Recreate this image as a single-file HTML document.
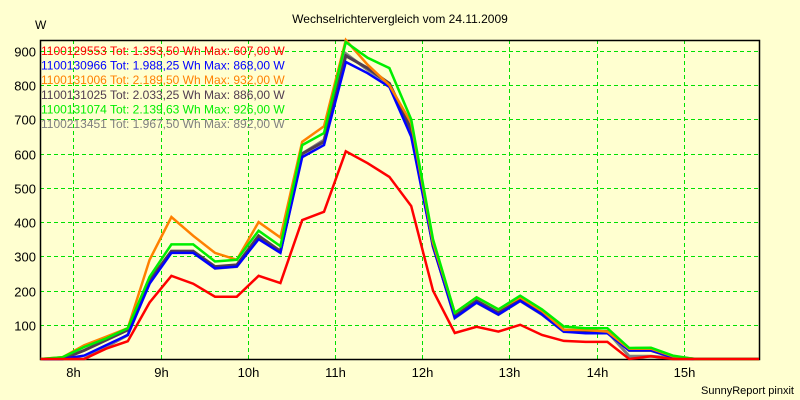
<!DOCTYPE html>
<html><head><meta charset="utf-8"><style>
body{margin:0;background:#ffffd0;}
svg{display:block;font-family:"Liberation Sans",Arial,sans-serif;}
</style></head><body>
<svg width="800" height="400" viewBox="0 0 800 400">
<rect width="800" height="400" fill="#ffffd0"/>
<text x="400" y="23" text-anchor="middle" font-size="12">Wechselrichtervergleich vom 24.11.2009</text>
<text x="35" y="29" font-size="12">W</text>
<text x="794" y="394" text-anchor="end" font-size="11">SunnyReport pinxit</text>
<g id="grid"></g>
<g id="axes"></g>
<g id="series"></g>
<g id="legend"></g>
</svg>
<script>
const yTicks=[100,200,300,400,500,600,700,800,900];
const xTickHours=[8,9,10,11,12,13,14,15];
const xTickLabels=["8h","9h","10h","11h","12h","13h","14h","15h"];
const startHour=7.625, stepHour=0.25;
const seriesNames=["1100129553","1100130966","1100131006","1100131025","1100131074","1100213451"];
const seriesLegend=["1100129553 Tot: 1.353,50 Wh Max: 607,00 W","1100130966 Tot: 1.988,25 Wh Max: 868,00 W","1100131006 Tot: 2.189,50 Wh Max: 932,00 W","1100131025 Tot: 2.033,25 Wh Max: 886,00 W","1100131074 Tot: 2.139,63 Wh Max: 926,00 W","1100213451 Tot: 1.967,50 Wh Max: 892,00 W"];
const seriesColors=["#ff0000","#0000ff","#ff8000","#503c50","#00ee00","#808080"];
const seriesRed=[0,0,0,30,52,165,243,220,182,182,243,222,406,430,607,572,532,447,200,76,94,80,100,70,53,50,50,0,8,0,0,0,0,0];
const seriesBlue=[0,0,10,40,70,220,310,310,265,270,350,310,590,625,868,835,795,650,330,120,165,130,170,130,80,75,75,25,25,5,0,0,0,0];
const seriesOrange=[0,5,40,65,90,290,415,360,310,290,400,355,635,680,932,860,800,690,340,135,180,145,180,140,85,85,80,30,30,8,0,0,0,0];
const seriesDark=[0,0,25,55,85,230,315,315,270,275,360,315,600,635,886,850,805,670,330,125,170,135,175,135,85,80,80,25,25,5,0,0,0,0];
const seriesGreen=[0,5,35,60,90,240,335,335,285,290,375,330,625,660,926,880,850,700,350,135,180,145,185,145,95,90,90,32,33,10,0,0,0,0];
const seriesGray=[0,0,0,35,70,225,315,315,265,270,355,315,600,640,892,845,805,670,335,120,165,130,170,130,80,80,80,8,8,3,0,0,0,0];
const drawOrder=[5,3,1,2,4,0];
const allSeries=[seriesRed,seriesBlue,seriesOrange,seriesDark,seriesGreen,seriesGray];
const L=40,R=759,T=40,B=359;
const yScale=v=>B-v*(B-51)/900;
const xScale=h=>73.3+(h-8)*87.2;
const NS="http://www.w3.org/2000/svg";
function mk(tag,attrs,parent){const e=document.createElementNS(NS,tag);for(const k in attrs)e.setAttribute(k,attrs[k]);parent.appendChild(e);return e;}
const grid=document.getElementById('grid'),axes=document.getElementById('axes'),ser=document.getElementById('series'),leg=document.getElementById('legend');
yTicks.forEach(v=>{
 const y=Math.round(yScale(v))+0.5;
 const g=mk('line',{x1:L,x2:R,y1:y,y2:y,stroke:'#00e000','stroke-dasharray':'4,3','stroke-width':1},grid);
 
 
 const t=mk('text',{x:36,y:y+5,'text-anchor':'end','font-size':13},axes);
 t.textContent=v;
 
 
});
xTickHours.forEach((h,i)=>{
 const x=Math.round(xScale(h))+0.5;
 const g=mk('line',{x1:x,x2:x,y1:T,y2:B,stroke:'#00e000','stroke-dasharray':'4,3','stroke-width':1},grid);
 
 
 const t=mk('text',{x:x,y:377,'text-anchor':'middle','font-size':13},axes);
 t.textContent=xTickLabels[i];
 
 
});
const frame=mk('rect',{x:L+0.5,y:T+0.5,width:R-L,height:B-T,fill:'none',stroke:'#000','stroke-width':1.5},axes);


drawOrder.forEach(si=>{
 const d=allSeries[si];
 const pts=d.map((v,i)=>Math.min(R,xScale(startHour+i*stepHour)).toFixed(1)+','+yScale(v).toFixed(1)).join(' ');
 const p=mk('polyline',{points:pts,fill:'none',stroke:seriesColors[si],'stroke-width':si===5||si===3?3:2.5,'stroke-linejoin':'miter'},ser);
 
 
});
seriesLegend.forEach((s,i)=>{
 const t=mk('text',{x:41,y:55+i*14.6,'font-size':12,fill:seriesColors[i]},leg);
 t.textContent=s;
 
 
});
</script>
</body></html>
